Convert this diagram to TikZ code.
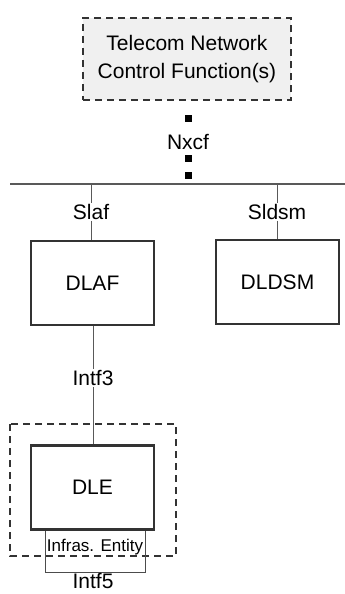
\documentclass[tikz,border=0pt]{standalone}
\usepackage{fontspec}
\setmainfont{Liberation Sans}
\begin{document}
\begin{tikzpicture}[x=1pt,y=-1pt,
  font=\fontsize{21}{25}\selectfont,
  fbox/.style={draw=black!80, line width=2.2pt, minimum width=123pt, minimum height=84pt, inner sep=0pt},
  dashbox/.style={draw=black!80, line width=2pt, dash pattern=on 7pt off 5pt},
  conn/.style={draw=black!65, line width=1pt},
  sq/.style={fill=black, minimum size=7pt, inner sep=0pt},
  lbl/.style={inner sep=1pt}]
\useasboundingbox (0,0) rectangle (345,594);
% top box
\node[dashbox, fill=black!6, minimum width=208pt, minimum height=82pt, align=center, inner sep=0pt,
  font=\fontsize{21}{28}\selectfont] (tncf) at (187,59) {Telecom Network\\Control Function(s)};
\node[sq] (s1) at (188,118) {};
\node[lbl] (nxcf) at (188,142) {Nxcf};
\node[sq] (s2) at (188,158) {};
\node[sq] (s3) at (188,175) {};
% bus line
\coordinate (busL) at (10,184);
\coordinate (busR) at (345,184);
\draw[conn, line width=1.2pt] (busL) -- (busR);
\coordinate (t1) at (91,184);
\coordinate (t2) at (277,184);
\node[lbl] (slaf) at (91,212) {Slaf};
\node[lbl] (sldsm) at (277,212) {Sldsm};
\node[fbox] (dlaf) at (92.5,283) {DLAF};
\node[fbox] (dldsm) at (277.5,282) {DLDSM};
\draw[conn] (t1) -- (slaf.north);
\draw[conn] (slaf.south) -- (dlaf.north -| slaf.south);
\draw[conn] (t2) -- (sldsm.north);
\draw[conn] (sldsm.south) -- (dldsm.north -| sldsm.south);
% lower part
\node[lbl] (intf3) at (93,378) {Intf3};
\draw[dashbox] (10,424) rectangle (176,556);
\node[draw=black!70, line width=1pt, minimum width=100pt, minimum height=43pt, inner sep=0pt,
  anchor=north] (infra) at (95,529) {};
\node[font=\fontsize{17}{20}\selectfont, inner sep=0pt] (infratxt) at (95,547) {Infras. Entity};
\node[fbox, fill=white] (dle) at (92.5,487.5) {DLE};
\draw[conn] (dlaf.south -| intf3.north) -- (intf3.north);
\draw[conn] (intf3.south) -- (dle.north -| intf3.south);
\node[inner sep=0pt] (intf5) at (93,581) {Intf5};
\end{tikzpicture}
\end{document}
